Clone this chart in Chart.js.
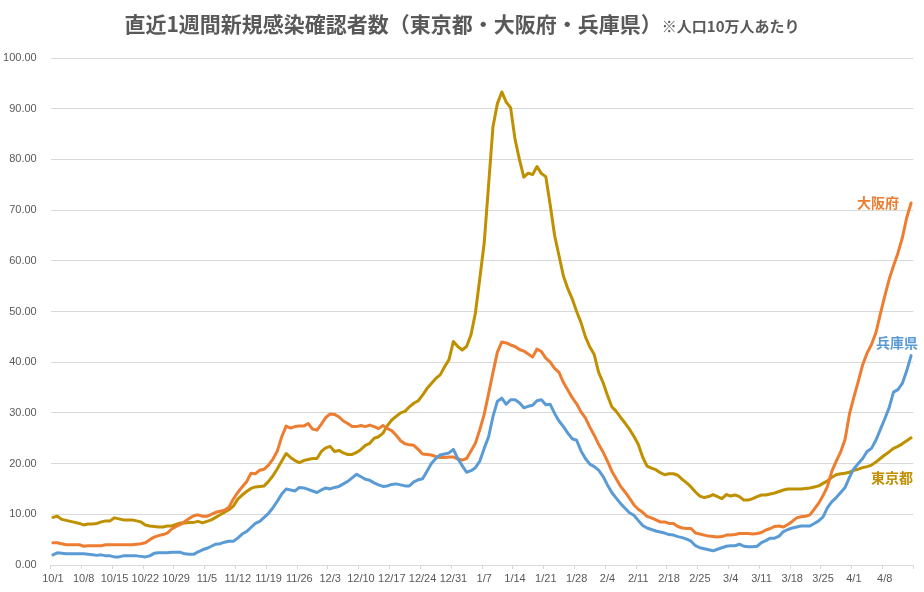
<!DOCTYPE html>
<html>
<head>
<meta charset="utf-8">
<script src="https://cdn.jsdelivr.net/npm/chart.js@4.4.1/dist/chart.umd.min.js"></script>
<style>
  html, body { margin: 0; padding: 0; background: #fff; }
  #wrap { position: relative; width: 924px; height: 592px; }
  #myChart { position: absolute; left: 0; top: 0; }
  #title {
    position: absolute; left: 0; top: 8px; width: 924px;
    text-align: center; white-space: nowrap;
    font-family: "Noto Sans CJK JP", sans-serif; font-weight: bold;
    font-size: 21px; line-height: 30px; color: #595959;
  }
  #title span { font-size: 15px; }
</style>
</head>
<body>
<div id="wrap">
  <canvas id="myChart" width="924" height="592"></canvas>
  <div id="title">直近1週間新規感染確認者数（東京都・大阪府・兵庫県）<span>※人口10万人あたり</span></div>
</div>
<script>
// month / number of days shown (10/1 - 4/14)
const months = [[10, 31], [11, 30], [12, 31], [1, 31], [2, 28], [3, 31], [4, 14]];

// labels under the axis
const tickLabels = ['10/1', '10/8', '10/15', '10/22', '10/29', '11/5', '11/12', '11/19', '11/26',
  '12/3', '12/10', '12/17', '12/24', '12/31', '1/7', '1/14', '1/21', '1/28', '2/4', '2/11',
  '2/18', '2/25', '3/4', '3/11', '3/18', '3/25', '4/1', '4/8'];

// 東京都
const tokyo = [
  9.4, 9.6, 9.0, 8.8, 8.6, 8.4, 8.2, 7.9, 8.1, 8.1,
  8.2, 8.5, 8.7, 8.7, 9.3, 9.1, 8.9, 8.9, 8.9, 8.7,
  8.5, 7.9, 7.7, 7.6, 7.5, 7.5, 7.7, 7.7, 8.0, 8.3,
  8.3, 8.4, 8.4, 8.6, 8.3, 8.6, 8.9, 9.4, 9.9, 10.4,
  10.9, 11.6, 13.0, 13.8, 14.5, 15.1, 15.4, 15.5, 15.6, 16.5,
  17.6, 19.0, 20.5, 22.0, 21.2, 20.6, 20.2, 20.6, 20.8, 21.0,
  21.0, 22.4, 23.1, 23.4, 22.4, 22.6, 22.1, 21.8, 21.8, 22.2,
  22.8, 23.6, 24.0, 25.0, 25.3, 26.0, 27.5, 28.6, 29.3, 30.0,
  30.3, 31.2, 31.9, 32.4, 33.5, 34.8, 35.8, 36.8, 37.5, 39.1,
  40.5, 44.1, 43.1, 42.4, 43.1, 45.4, 49.7, 56.5, 63.5, 75.0,
  86.5, 91.0, 93.3, 91.3, 90.2, 84.0, 80.0, 76.5, 77.3, 77.0,
  78.6, 77.2, 76.6, 71.0, 65.0, 61.0, 57.0, 54.5, 52.5, 50.0,
  47.8, 45.0, 43.0, 41.5, 38.0, 36.0, 33.5, 31.2, 30.3, 29.1,
  28.0, 26.8, 25.4, 23.8, 21.3, 19.5, 19.1, 18.8, 18.2, 17.8,
  18.0, 18.0, 17.7, 16.9, 16.2, 15.4, 14.4, 13.6, 13.3, 13.5,
  13.9, 13.5, 13.1, 13.9, 13.6, 13.8, 13.5, 12.8, 12.8, 13.1,
  13.5, 13.8, 13.8, 14.0, 14.2, 14.5, 14.8, 15.0, 15.0, 15.0,
  15.0, 15.1, 15.2, 15.4, 15.6, 16.1, 16.6, 17.3, 17.8, 18.0,
  18.1, 18.3, 18.7, 18.9, 19.2, 19.4, 19.7, 20.3, 21.0, 21.7,
  22.3, 23.0, 23.4, 23.9, 24.5, 25.1
];

// 大阪府
const osaka = [
  4.4, 4.4, 4.2, 4.0, 4.0, 4.0, 4.0, 3.7, 3.8, 3.8,
  3.8, 3.8, 4.0, 4.0, 4.0, 4.0, 4.0, 4.0, 4.0, 4.1,
  4.2, 4.4, 5.0, 5.5, 5.8, 6.0, 6.3, 7.1, 7.6, 8.0,
  8.6, 9.2, 9.7, 9.9, 9.6, 9.6, 10.0, 10.4, 10.6, 10.8,
  11.4, 13.0, 14.3, 15.4, 16.4, 18.1, 18.0, 18.7, 18.9, 19.7,
  20.9, 22.5, 25.3, 27.4, 27.0, 27.3, 27.4, 27.4, 27.9, 26.8,
  26.6, 27.8, 29.1, 29.8, 29.7, 29.2, 28.4, 27.9, 27.3, 27.3,
  27.5, 27.3, 27.6, 27.3, 26.9, 27.5, 26.9, 26.5, 25.6, 24.5,
  23.9, 23.7, 23.6, 22.8, 21.9, 21.8, 21.7, 21.4, 21.2, 21.2,
  21.3, 21.3, 20.9, 20.7, 21.0, 22.5, 24.0, 26.7, 29.7, 33.8,
  38.0, 42.0, 44.0, 43.8, 43.4, 43.1, 42.5, 42.2, 41.6, 41.0,
  42.6, 42.1, 40.8, 40.0, 38.8, 38.0, 36.0, 34.5, 33.0, 31.8,
  30.2, 29.0, 27.2, 25.6, 23.8, 22.3, 20.5, 18.5, 17.0, 15.5,
  14.4, 13.2, 11.9, 11.0, 10.4, 9.6, 9.3, 8.9, 8.5, 8.5,
  8.2, 8.2, 7.6, 7.3, 7.2, 7.2, 6.3, 6.1, 5.9, 5.7,
  5.6, 5.5, 5.6, 5.9, 5.9, 6.0, 6.2, 6.2, 6.2, 6.1,
  6.2, 6.4, 6.9, 7.2, 7.6, 7.7, 7.5, 8.0, 8.6, 9.3,
  9.5, 9.6, 9.9, 11.0, 12.2, 13.7, 15.5, 18.5, 20.5, 22.3,
  24.8, 29.8, 33.1, 36.2, 39.5, 41.8, 43.5, 45.8, 49.5, 53.0,
  56.3, 59.0, 61.5, 64.5, 68.5, 71.4
];

// 兵庫県
const hyogo = [
  2.0, 2.4, 2.3, 2.2, 2.2, 2.2, 2.2, 2.2, 2.1, 2.0,
  1.9, 2.0, 1.8, 1.8, 1.6, 1.6, 1.8, 1.8, 1.8, 1.8,
  1.7, 1.6, 1.8, 2.3, 2.4, 2.4, 2.4, 2.5, 2.5, 2.5,
  2.2, 2.1, 2.1, 2.6, 3.0, 3.3, 3.7, 4.1, 4.2, 4.5,
  4.7, 4.7, 5.3, 6.1, 6.6, 7.4, 8.2, 8.6, 9.4, 10.2,
  11.3, 12.6, 14.0, 15.0, 14.8, 14.6, 15.3, 15.2, 14.9, 14.6,
  14.3, 14.8, 15.2, 15.0, 15.3, 15.5, 16.0, 16.5, 17.2, 17.9,
  17.4, 16.9, 16.7, 16.2, 15.8, 15.5, 15.6, 15.9, 16.0, 15.8,
  15.6, 15.6, 16.4, 16.8, 17.0, 18.5, 20.0, 21.0, 21.7, 21.9,
  22.1, 22.8, 21.0, 19.6, 18.3, 18.6, 19.2, 20.5, 23.0, 25.3,
  29.3, 32.3, 32.9, 31.7, 32.6, 32.6, 32.0, 31.0, 31.3, 31.5,
  32.4, 32.6, 31.6, 31.7, 29.9, 28.4, 27.3, 26.0, 24.9, 24.6,
  22.5, 21.0, 19.9, 19.4, 18.7, 17.5, 15.8, 14.3, 13.2, 12.1,
  11.2, 10.3, 9.8, 8.8, 7.8, 7.3, 7.0, 6.7, 6.5, 6.3,
  6.0, 5.9, 5.6, 5.4, 5.1, 4.7, 3.8, 3.4, 3.2, 3.0,
  2.8, 3.1, 3.4, 3.7, 3.8, 3.8, 4.1, 3.7, 3.6, 3.6,
  3.7, 4.4, 4.8, 5.3, 5.3, 5.7, 6.6, 7.0, 7.3, 7.5,
  7.7, 7.7, 7.7, 8.2, 8.7, 9.5, 11.3, 12.5, 13.3, 14.3,
  15.3, 17.3, 19.0, 20.0, 21.0, 22.4, 23.0, 24.6, 26.7, 28.8,
  31.0, 34.1, 34.6, 35.8, 38.3, 41.3
];

const days = [];
months.forEach(([m, n]) => {
  for (let d = 1; d <= n; d++) days.push(m + '/' + d);
});

const tickFont = { family: '"Liberation Sans", Arial, sans-serif', size: 11 };

// series names written next to the end of each line
const endLabels = {
  id: 'endLabels',
  afterDatasetsDraw(chart) {
    const c = chart.ctx;
    c.save();
    c.font = 'bold 14px "Noto Sans CJK JP"';
    c.textAlign = 'right';
    c.textBaseline = 'middle';
    chart.data.datasets.forEach((ds, i) => {
      const pts = chart.getDatasetMeta(i).data;
      const p = pts[pts.length - 1];
      c.fillStyle = ds.borderColor;
      c.fillText(ds.label, p.x + ds.labelShift[0], p.y + ds.labelShift[1]);
    });
    c.restore();
  }
};

new Chart(document.getElementById('myChart'), {
  type: 'line',
  data: {
    labels: days,
    datasets: [
      { label: '兵庫県', data: hyogo, borderColor: '#5B9BD5', labelShift: [7, -13] },
      { label: '大阪府', data: osaka, borderColor: '#ED7D31', labelShift: [-12, 0] },
      { label: '東京都', data: tokyo, borderColor: '#BF9000', labelShift: [2, 40] }
    ]
  },
  options: {
    responsive: false,
    animation: false,
    layout: { padding: { top: 58, right: 10.7, left: 0, bottom: 0 } },
    elements: {
      point: { radius: 0 },
      line: { borderWidth: 3, tension: 0, borderJoinStyle: 'round', borderCapStyle: 'round' }
    },
    plugins: {
      legend: { display: false },
      tooltip: { enabled: false }
    },
    scales: {
      x: {
        offset: true,
        grid: {
          offset: true,
          drawOnChartArea: false,
          drawTicks: true,
          tickLength: 4,
          color: (c) => (c.index === undefined || c.index % 7 === 0) ? '#d9d9d9' : 'rgba(0,0,0,0)'
        },
        border: { display: true, color: '#d9d9d9' },
        ticks: {
          autoSkip: false,
          maxRotation: 0,
          minRotation: 0,
          padding: 3,
          color: '#595959',
          font: tickFont,
          callback: function (v) {
            const l = this.getLabelForValue(v);
            return tickLabels.includes(l) ? l : '';
          }
        },
        afterFit: (s) => { s.height = 27; }
      },
      y: {
        min: 0,
        max: 100,
        grid: { color: '#d9d9d9', drawTicks: false },
        border: { display: false },
        ticks: {
          stepSize: 10,
          padding: 14,
          color: '#595959',
          font: tickFont,
          callback: (v) => v.toFixed(2)
        },
        afterFit: (s) => { s.width = 50.7; }
      }
    }
  },
  plugins: [endLabels]
});
</script>
</body>
</html>
